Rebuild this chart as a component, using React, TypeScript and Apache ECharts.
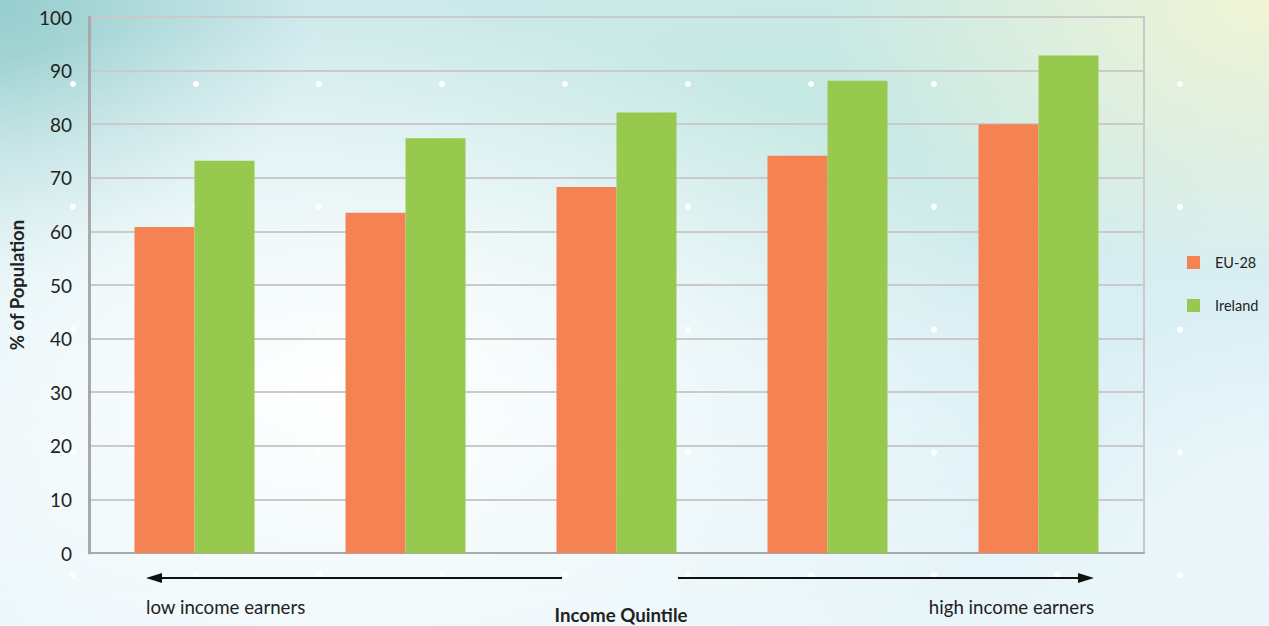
import React, { useEffect, useRef } from "react";
import * as echarts from "echarts";

const categories = ["Quintile 1", "Quintile 2", "Quintile 3", "Quintile 4", "Quintile 5"];
const eu28 = [60.8, 63.5, 68.3, 74.1, 80.0];
const ireland = [73.2, 77.4, 82.2, 88.1, 92.8];
const seriesNames = ["EU-28", "Ireland"];
const yTicks = { min: 0, max: 100, interval: 10 };

const W = 1269;
const H = 626;

export default function App() {
  const ref = useRef<HTMLDivElement>(null);
  useEffect(() => {
    if (!ref.current) return;
    const chart = echarts.init(ref.current, null, { renderer: "svg" });
    const font = "Lato, 'Open Sans', sans-serif";

    const dots: any[] = [];
    for (let i = 0; i < 10; i++) {
      for (let j = 0; j < 5; j++) {
        dots.push({
          type: "circle",
          shape: { cx: 73 + 123 * i, cy: 84 + 122.8 * j, r: 3 },
          style: { fill: "#ffffff" },
          z: 1,
          silent: true,
        });
      }
    }

    const arrowY = 578;
    const graphics: any[] = [
      ...dots,
      {
        type: "line",
        shape: { x1: 562, y1: arrowY, x2: 158, y2: arrowY },
        style: { stroke: "#111", lineWidth: 2 },
        z: 5,
      },
      {
        type: "polygon",
        shape: { points: [[146, arrowY], [162, arrowY - 5], [162, arrowY + 5]] },
        style: { fill: "#111" },
        z: 5,
      },
      {
        type: "line",
        shape: { x1: 678, y1: arrowY, x2: 1081, y2: arrowY },
        style: { stroke: "#111", lineWidth: 2 },
        z: 5,
      },
      {
        type: "polygon",
        shape: { points: [[1094, arrowY], [1078, arrowY - 5], [1078, arrowY + 5]] },
        style: { fill: "#111" },
        z: 5,
      },
      {
        type: "text",
        x: 146,
        y: 607,
        style: {
          text: "low income earners",
          font: `18.7px ${font}`,
          fill: "#222",
          textAlign: "left",
          textVerticalAlign: "middle",
        },
        z: 5,
      },
      {
        type: "text",
        x: 1094,
        y: 607,
        style: {
          text: "high income earners",
          font: `18.7px ${font}`,
          fill: "#222",
          textAlign: "right",
          textVerticalAlign: "middle",
        },
        z: 5,
      },
    ];

    chart.setOption({
      animation: false,
      backgroundColor: "transparent",
      textStyle: { fontFamily: font },
      grid: {
        left: 89,
        right: W - 1144,
        top: 17,
        bottom: H - 553,
        show: true,
        borderColor: "#c9c9c9",
        borderWidth: 2,
        backgroundColor: "transparent",
        containLabel: false,
        outerBoundsMode: "none",
      },
      legend: {
        orient: "vertical",
        left: 1182,
        top: 250,
        itemWidth: 13,
        itemHeight: 13,
        itemGap: 28,
        icon: "rect",
        textStyle: { fontFamily: font, fontSize: 14.5, color: "#222", padding: [0, 0, 0, 10] },
        data: seriesNames,
      },
      xAxis: {
        type: "category",
        data: categories,
        name: "Income Quintile",
        nameLocation: "middle",
        nameGap: 52,
        nameTextStyle: {
          fontFamily: font,
          fontSize: 18.7,
          fontWeight: "bold",
          color: "#222",
          padding: [0, 0, 0, 9],
        },
        axisLine: { show: true, lineStyle: { color: "#a9a9a9", width: 2 } },
        axisTick: { show: false },
        axisLabel: { show: false },
        splitLine: { show: false },
      },
      yAxis: {
        type: "value",
        min: yTicks.min,
        max: yTicks.max,
        interval: yTicks.interval,
        name: "% of Population",
        nameLocation: "middle",
        nameGap: 63,
        nameTextStyle: { fontFamily: font, fontSize: 18.5, fontWeight: "bold", color: "#222" },
        axisLine: { show: true, lineStyle: { color: "#a9a9a9", width: 3 } },
        axisTick: { show: false },
        axisLabel: { fontFamily: font, fontSize: 19, color: "#222", margin: 17 },
        splitLine: { show: true, lineStyle: { color: "#cacaca", width: 2 } },
      },
      graphic: graphics,
      series: [
        {
          name: seriesNames[0],
          type: "bar",
          data: eu28,
          barWidth: 60,
          barGap: "0%",
          itemStyle: { color: "#f48252" },
          z: 3,
        },
        {
          name: seriesNames[1],
          type: "bar",
          data: ireland,
          barWidth: 60,
          barGap: "0%",
          itemStyle: { color: "#98c94f" },
          z: 3,
        },
      ],
    });
    return () => chart.dispose();
  }, []);

  const bg = [
    "radial-gradient(ellipse 55% 60% at 27% 62%, rgba(255,255,255,1) 0%, rgba(255,255,255,0.6) 45%, rgba(255,255,255,0) 100%)",
    "radial-gradient(ellipse 35% 45% at 100% 0%, rgba(240,244,212,1) 0%, rgba(240,244,212,0) 100%)",
    "radial-gradient(ellipse 25% 45% at 0% 0%, rgba(150,205,205,1) 0%, rgba(150,205,205,0) 100%)",
    "radial-gradient(ellipse 40% 40% at 62% 15%, rgba(196,232,226,1) 0%, rgba(196,232,226,0) 100%)",
    "radial-gradient(ellipse 20% 40% at 100% 85%, rgba(236,246,250,1) 0%, rgba(236,246,250,0) 100%)",
    "linear-gradient(to bottom, #cfeaec 0%, #d9eff4 55%, #e9f6fa 100%)",
  ].join(", ");

  return (
    <div
      style={{ position: "absolute", left: 0, top: 0, width: W, height: H, background: bg }}
    >
      <div ref={ref} style={{ width: W, height: H }} />
    </div>
  );
}
